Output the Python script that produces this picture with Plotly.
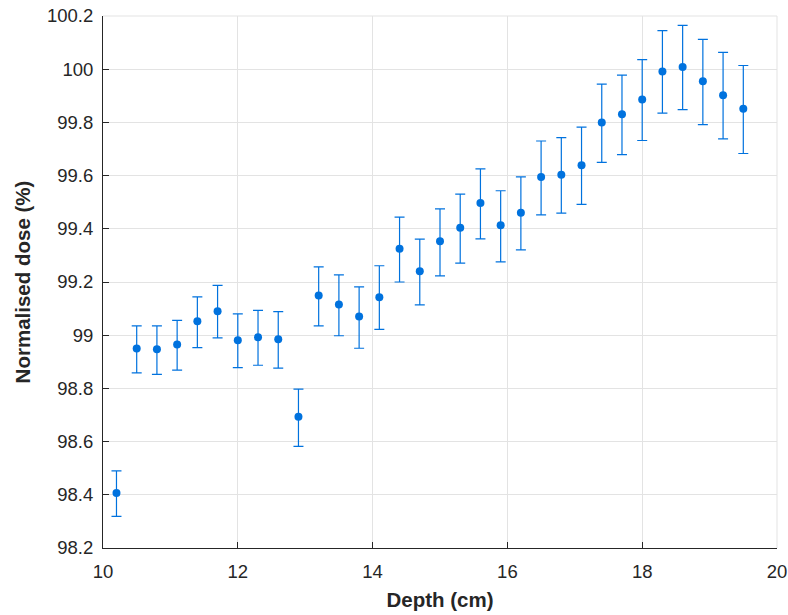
import plotly.graph_objects as go

depth = [10.2, 10.5, 10.8, 11.1, 11.4, 11.7, 12.0, 12.3, 12.6, 12.9,
         13.2, 13.5, 13.8, 14.1, 14.4, 14.7, 15.0, 15.3, 15.6, 15.9,
         16.2, 16.5, 16.8, 17.1, 17.4, 17.7, 18.0, 18.3, 18.6, 18.9,
         19.2, 19.5]
dose = [98.407, 98.950, 98.947, 98.965, 99.052, 99.090, 98.981, 98.992, 98.985, 98.693,
        99.149, 99.115, 99.070, 99.143, 99.325, 99.240, 99.353, 99.404, 99.497, 99.413,
        99.460, 99.595, 99.603, 99.639, 99.800, 99.831, 99.886, 99.991, 100.008, 99.955,
        99.902, 99.851]
err_up = [0.083, 0.085, 0.088, 0.091, 0.092, 0.097, 0.099, 0.101, 0.104, 0.104,
          0.108, 0.112, 0.112, 0.118, 0.119, 0.121, 0.122, 0.126, 0.128, 0.130,
          0.135, 0.135, 0.140, 0.143, 0.144, 0.147, 0.150, 0.154, 0.157, 0.157,
          0.161, 0.163]
err_down = [0.088, 0.092, 0.094, 0.096, 0.099, 0.100, 0.103, 0.105, 0.109, 0.111,
            0.114, 0.117, 0.119, 0.121, 0.125, 0.126, 0.130, 0.133, 0.135, 0.137,
            0.139, 0.143, 0.144, 0.147, 0.150, 0.152, 0.154, 0.156, 0.160, 0.163,
            0.164, 0.168]

x_ticks = [10, 12, 14, 16, 18, 20]
y_ticks = [98.2, 98.4, 98.6, 98.8, 99, 99.2, 99.4, 99.6, 99.8, 100, 100.2]
y_tick_text = ["98.2", "98.4", "98.6", "98.8", "99", "99.2", "99.4", "99.6", "99.8", "100", "100.2"]

color = "#0072DE"
fig = go.Figure()
fig.add_trace(go.Scatter(
    x=depth, y=dose, mode="markers",
    marker=dict(color=color, size=8),
    error_y=dict(type="data", symmetric=False, array=err_up, arrayminus=err_down,
                 color=color, thickness=1.2, width=5),
    showlegend=False,
    cliponaxis=False,
))

font_family = "Liberation Sans, Arial, Helvetica, sans-serif"
grid = "#E3E3E3"
fig.update_layout(
    width=788, height=615,
    margin=dict(l=103, r=11, t=16, b=67, autoexpand=False),
    plot_bgcolor="white", paper_bgcolor="white",
    font=dict(family=font_family, color="#262626", size=18),
    xaxis=dict(
        range=[10, 20], tickvals=x_ticks, ticktext=[str(v) for v in x_ticks],
        showgrid=True, gridcolor=grid, gridwidth=1, zeroline=False,
        showline=True, linecolor="#262626", linewidth=1,
        ticks="inside", ticklen=6, tickcolor="#262626",
        tickfont=dict(size=18.5), automargin=False, ticklabelstandoff=7,
        ticklabeloverflow="allow",
        title=dict(text="<b>Depth (cm)</b>", font=dict(size=20.5), standoff=11),
    ),
    yaxis=dict(
        range=[98.2, 100.2], tickvals=y_ticks, ticktext=y_tick_text,
        showgrid=True, gridcolor=grid, gridwidth=1, zeroline=False,
        showline=True, linecolor="#262626", linewidth=1,
        ticks="inside", ticklen=6, tickcolor="#262626",
        tickfont=dict(size=18.5), automargin=False, ticklabelstandoff=5,
        ticklabeloverflow="allow",
        title=dict(text="<b>Normalised dose (%)</b>", font=dict(size=20.5), standoff=10),
    ),
)
fig.add_shape(type="line", xref="paper", yref="paper", x0=0, x1=1, y0=1, y1=1,
              line=dict(color=grid, width=1))
fig.add_shape(type="line", xref="paper", yref="paper", x0=1, x1=1, y0=0, y1=1,
              line=dict(color=grid, width=1))
fig.write_html("out.html", config={"displayModeBar": False},
               post_script="document.body.style.margin='0';")
